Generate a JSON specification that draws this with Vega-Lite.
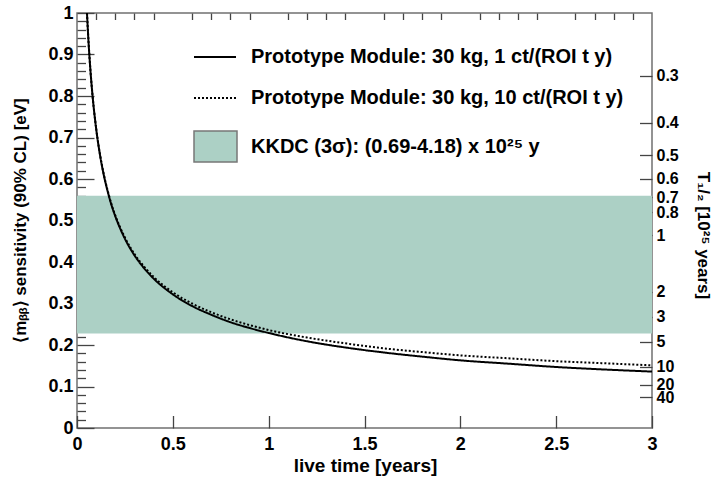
{
  "$schema": "https://vega.github.io/schema/vega-lite/v6.json",
  "width": 575,
  "height": 415,
  "autosize": {"type": "none"},
  "padding": {"left": 77, "top": 13, "right": 70, "bottom": 50},
  "background": "white",
  "config": {
    "view": {"stroke": "#707070", "strokeWidth": 1.5},
    "font": "Liberation Sans",
    "axis": {
      "labelFont": "Liberation Sans", "labelFontWeight": "bold", "labelFontSize": 18, "labelColor": "black",
      "titleFont": "Liberation Sans", "titleFontWeight": "bold", "titleFontSize": 17, "titleColor": "black",
      "domain": false, "grid": false, "tickColor": "#444", "tickWidth": 1.3, "zindex": 1,
      "labelOverlap": false, "labelBound": false, "labelFlush": false
    },
    "legend": {"labelFont": "Liberation Sans", "labelFontWeight": "bold", "labelFontSize": 20, "labelColor": "black", "labelLimit": 0, "padding": 0}
  },
  "datasets": {
    "band": [{"label": "KKDC (3σ): (0.69-4.18) x 10²⁵ y", "tLow": 0.69, "tHigh": 4.18}],
    "curves": [
      {"series": "Prototype Module: 30 kg, 1 ct/(ROI t y)", "t": 0.052, "m": 1.0},
      {"series": "Prototype Module: 30 kg, 1 ct/(ROI t y)", "t": 0.06, "m": 0.931},
      {"series": "Prototype Module: 30 kg, 1 ct/(ROI t y)", "t": 0.07, "m": 0.862},
      {"series": "Prototype Module: 30 kg, 1 ct/(ROI t y)", "t": 0.08, "m": 0.806},
      {"series": "Prototype Module: 30 kg, 1 ct/(ROI t y)", "t": 0.09, "m": 0.76},
      {"series": "Prototype Module: 30 kg, 1 ct/(ROI t y)", "t": 0.1, "m": 0.721},
      {"series": "Prototype Module: 30 kg, 1 ct/(ROI t y)", "t": 0.12, "m": 0.658},
      {"series": "Prototype Module: 30 kg, 1 ct/(ROI t y)", "t": 0.14, "m": 0.609},
      {"series": "Prototype Module: 30 kg, 1 ct/(ROI t y)", "t": 0.16, "m": 0.57},
      {"series": "Prototype Module: 30 kg, 1 ct/(ROI t y)", "t": 0.18, "m": 0.537},
      {"series": "Prototype Module: 30 kg, 1 ct/(ROI t y)", "t": 0.2, "m": 0.51},
      {"series": "Prototype Module: 30 kg, 1 ct/(ROI t y)", "t": 0.25, "m": 0.456},
      {"series": "Prototype Module: 30 kg, 1 ct/(ROI t y)", "t": 0.3, "m": 0.416},
      {"series": "Prototype Module: 30 kg, 1 ct/(ROI t y)", "t": 0.35, "m": 0.385},
      {"series": "Prototype Module: 30 kg, 1 ct/(ROI t y)", "t": 0.4, "m": 0.36},
      {"series": "Prototype Module: 30 kg, 1 ct/(ROI t y)", "t": 0.5, "m": 0.322},
      {"series": "Prototype Module: 30 kg, 1 ct/(ROI t y)", "t": 0.6, "m": 0.294},
      {"series": "Prototype Module: 30 kg, 1 ct/(ROI t y)", "t": 0.7, "m": 0.273},
      {"series": "Prototype Module: 30 kg, 1 ct/(ROI t y)", "t": 0.8, "m": 0.255},
      {"series": "Prototype Module: 30 kg, 1 ct/(ROI t y)", "t": 0.9, "m": 0.241},
      {"series": "Prototype Module: 30 kg, 1 ct/(ROI t y)", "t": 1.0, "m": 0.229},
      {"series": "Prototype Module: 30 kg, 1 ct/(ROI t y)", "t": 1.2, "m": 0.209},
      {"series": "Prototype Module: 30 kg, 1 ct/(ROI t y)", "t": 1.4, "m": 0.194},
      {"series": "Prototype Module: 30 kg, 1 ct/(ROI t y)", "t": 1.6, "m": 0.182},
      {"series": "Prototype Module: 30 kg, 1 ct/(ROI t y)", "t": 1.8, "m": 0.172},
      {"series": "Prototype Module: 30 kg, 1 ct/(ROI t y)", "t": 2.0, "m": 0.163},
      {"series": "Prototype Module: 30 kg, 1 ct/(ROI t y)", "t": 2.25, "m": 0.155},
      {"series": "Prototype Module: 30 kg, 1 ct/(ROI t y)", "t": 2.5, "m": 0.147},
      {"series": "Prototype Module: 30 kg, 1 ct/(ROI t y)", "t": 2.75, "m": 0.141},
      {"series": "Prototype Module: 30 kg, 1 ct/(ROI t y)", "t": 3.0, "m": 0.136},
      {"series": "Prototype Module: 30 kg, 10 ct/(ROI t y)", "t": 0.052, "m": 1.0},
      {"series": "Prototype Module: 30 kg, 10 ct/(ROI t y)", "t": 0.06, "m": 0.932},
      {"series": "Prototype Module: 30 kg, 10 ct/(ROI t y)", "t": 0.07, "m": 0.863},
      {"series": "Prototype Module: 30 kg, 10 ct/(ROI t y)", "t": 0.08, "m": 0.807},
      {"series": "Prototype Module: 30 kg, 10 ct/(ROI t y)", "t": 0.09, "m": 0.761},
      {"series": "Prototype Module: 30 kg, 10 ct/(ROI t y)", "t": 0.1, "m": 0.722},
      {"series": "Prototype Module: 30 kg, 10 ct/(ROI t y)", "t": 0.12, "m": 0.659},
      {"series": "Prototype Module: 30 kg, 10 ct/(ROI t y)", "t": 0.14, "m": 0.611},
      {"series": "Prototype Module: 30 kg, 10 ct/(ROI t y)", "t": 0.16, "m": 0.572},
      {"series": "Prototype Module: 30 kg, 10 ct/(ROI t y)", "t": 0.18, "m": 0.539},
      {"series": "Prototype Module: 30 kg, 10 ct/(ROI t y)", "t": 0.2, "m": 0.512},
      {"series": "Prototype Module: 30 kg, 10 ct/(ROI t y)", "t": 0.25, "m": 0.459},
      {"series": "Prototype Module: 30 kg, 10 ct/(ROI t y)", "t": 0.3, "m": 0.419},
      {"series": "Prototype Module: 30 kg, 10 ct/(ROI t y)", "t": 0.35, "m": 0.389},
      {"series": "Prototype Module: 30 kg, 10 ct/(ROI t y)", "t": 0.4, "m": 0.364},
      {"series": "Prototype Module: 30 kg, 10 ct/(ROI t y)", "t": 0.5, "m": 0.327},
      {"series": "Prototype Module: 30 kg, 10 ct/(ROI t y)", "t": 0.6, "m": 0.3},
      {"series": "Prototype Module: 30 kg, 10 ct/(ROI t y)", "t": 0.7, "m": 0.279},
      {"series": "Prototype Module: 30 kg, 10 ct/(ROI t y)", "t": 0.8, "m": 0.262},
      {"series": "Prototype Module: 30 kg, 10 ct/(ROI t y)", "t": 0.9, "m": 0.248},
      {"series": "Prototype Module: 30 kg, 10 ct/(ROI t y)", "t": 1.0, "m": 0.236},
      {"series": "Prototype Module: 30 kg, 10 ct/(ROI t y)", "t": 1.2, "m": 0.218},
      {"series": "Prototype Module: 30 kg, 10 ct/(ROI t y)", "t": 1.4, "m": 0.204},
      {"series": "Prototype Module: 30 kg, 10 ct/(ROI t y)", "t": 1.6, "m": 0.192},
      {"series": "Prototype Module: 30 kg, 10 ct/(ROI t y)", "t": 1.8, "m": 0.183},
      {"series": "Prototype Module: 30 kg, 10 ct/(ROI t y)", "t": 2.0, "m": 0.175},
      {"series": "Prototype Module: 30 kg, 10 ct/(ROI t y)", "t": 2.25, "m": 0.168},
      {"series": "Prototype Module: 30 kg, 10 ct/(ROI t y)", "t": 2.5, "m": 0.161},
      {"series": "Prototype Module: 30 kg, 10 ct/(ROI t y)", "t": 2.75, "m": 0.156},
      {"series": "Prototype Module: 30 kg, 10 ct/(ROI t y)", "t": 3.0, "m": 0.151}
    ]
  },
  "layer": [
    {
      "data": {"name": "band"},
      "mark": {"type": "rect"},
      "encoding": {
        "y": {
          "field": "tLow", "type": "quantitative",
          "scale": {"type": "pow", "exponent": -0.5, "domain": [0.21623, 1000000000000], "reverse": true, "nice": false, "zero": false},
          "axis": {
            "orient": "right",
            "values": [0.3, 0.4, 0.5, 0.6, 0.7, 0.8, 1, 2, 3, 5, 10, 20, 40],
            "labelExpr": "datum.value >= 1 ? format(datum.value, 'd') : format(datum.value, '.1f')",
            "tickSize": -12.5, "labelPadding": 16.5, "labelFontSize": 16, "labelAlign": "left",
            "title": "T₁/₂ [10²⁵ years]", "titleAngle": 90, "titleX": 50, "titleY": 222,
            "titleAlign": "center", "titleBaseline": "middle"
          }
        },
        "y2": {"field": "tHigh"},
        "fill": {
          "field": "label", "type": "nominal",
          "scale": {"range": ["#acd0c5"]},
          "legend": {
            "orient": "none", "legendX": 116, "legendY": 111, "title": null,
            "symbolType": "M-1,-0.72L1,-0.72L1,0.72L-1,0.72Z", "symbolSize": 1849,
            "symbolStrokeColor": "#777777", "symbolStrokeWidth": 1.5, "labelOffset": 13
          }
        }
      }
    },
    {
      "data": {"name": "curves"},
      "layer": [
        {
          "transform": [{"filter": {"field": "series", "equal": "Prototype Module: 30 kg, 1 ct/(ROI t y)"}}],
          "mark": {"type": "line", "color": "black", "strokeWidth": 2, "interpolate": "monotone"},
          "encoding": {
            "x": {
              "field": "t", "type": "quantitative",
              "scale": {"domain": [0, 3], "nice": false, "zero": false},
              "axis": {
                "values": [0, 0.5, 1, 1.5, 2, 2.5, 3], "format": "~g",
                "tickSize": -12.5, "labelPadding": 19.5,
                "title": "live time [years]", "titleFontSize": 19, "titleX": 288, "titleY": 37,
                "titleAlign": "center", "titleBaseline": "middle"
              }
            },
            "y": {
              "field": "m", "type": "quantitative",
              "scale": {"domain": [0, 1], "nice": false, "zero": false},
              "axis": {
                "orient": "left",
                "values": [0, 0.1, 0.2, 0.3, 0.4, 0.5, 0.6, 0.7, 0.8, 0.9, 1], "format": "~g",
                "tickSize": -17, "labelPadding": 21,
                "title": "⟨mᵦᵦ⟩ sensitivity (90% CL) [eV]", "titleAngle": -90,
                "titleX": -57, "titleY": 207, "titleAlign": "center", "titleBaseline": "middle"
              }
            },
            "strokeDash": {
              "field": "series", "type": "nominal",
              "scale": {"domain": ["Prototype Module: 30 kg, 1 ct/(ROI t y)", "Prototype Module: 30 kg, 10 ct/(ROI t y)"], "range": [[1, 0], [2, 2]]},
              "legend": {
                "orient": "none", "legendX": 116, "legendY": 22, "title": null,
                "symbolType": "stroke", "symbolSize": 1764, "symbolStrokeWidth": 2,
                "symbolStrokeColor": "black", "labelOffset": 14, "rowPadding": 9
              }
            }
          }
        },
        {
          "transform": [{"filter": {"field": "series", "equal": "Prototype Module: 30 kg, 10 ct/(ROI t y)"}}],
          "mark": {"type": "line", "color": "black", "strokeWidth": 2, "interpolate": "monotone"},
          "encoding": {
            "x": {
              "field": "t", "type": "quantitative",
              "axis": {
                "values": [0.1, 0.2, 0.3, 0.4, 0.6, 0.7, 0.8, 0.9, 1.1, 1.2, 1.3, 1.4, 1.6, 1.7, 1.8, 1.9, 2.1, 2.2, 2.3, 2.4, 2.6, 2.7, 2.8, 2.9],
                "labels": false, "tickSize": -6.5, "title": null
              }
            },
            "y": {
              "field": "m", "type": "quantitative",
              "axis": {
                "orient": "left",
                "values": [0.02, 0.04, 0.06, 0.08, 0.12, 0.14, 0.16, 0.18, 0.22, 0.24, 0.26, 0.28, 0.32, 0.34, 0.36, 0.38, 0.42, 0.44, 0.46, 0.48, 0.52, 0.54, 0.56, 0.58, 0.62, 0.64, 0.66, 0.68, 0.72, 0.74, 0.76, 0.78, 0.82, 0.84, 0.86, 0.88, 0.92, 0.94, 0.96, 0.98],
                "labels": false, "tickSize": -8.5, "title": null
              }
            },
            "strokeDash": {"field": "series", "type": "nominal"}
          }
        }
      ],
      "resolve": {"axis": {"x": "independent", "y": "independent"}}
    }
  ],
  "resolve": {"scale": {"y": "independent"}}
}
